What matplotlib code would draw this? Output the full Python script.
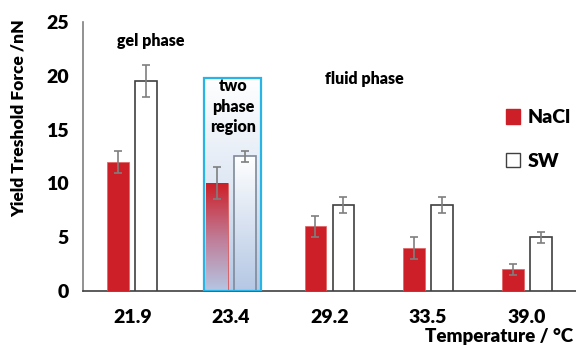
import matplotlib
matplotlib.use("Agg")
import matplotlib.pyplot as plt
import numpy as np
from matplotlib.colors import LinearSegmentedColormap
from matplotlib.patches import Patch

temps = ["21.9", "23.4", "29.2", "33.5", "39.0"]
nacl = [12, 10, 6, 4, 2]
nacl_err = [1, 1.5, 1, 1, 0.5]
sw = [19.5, 12.5, 8, 8, 5]
sw_err = [1.5, 0.5, 0.75, 0.75, 0.5]

plt.rcParams['font.family'] = ['Lato', 'DejaVu Sans']
plt.rcParams['font.weight'] = 'heavy'
FW = 'heavy'

fig = plt.figure(figsize=(5.76, 3.48), dpi=100)
ax = fig.add_axes([0.144, 0.164, 0.856, 0.773])

red = '#cc1f27'
x = np.arange(len(temps))
w = 0.22
off = 0.142

bars_r = ax.bar(x - off, nacl, w, color=red, edgecolor='#e06060', linewidth=0.5, zorder=3)
bars_w = ax.bar(x + off, sw, w, color='white', edgecolor='#404040', linewidth=1.2, zorder=3)
ax.errorbar(x - off, nacl, yerr=nacl_err, fmt='none', ecolor='#7f7f7f', elinewidth=1.2, capsize=3, capthick=1.2, zorder=5)
ax.errorbar(x + off, sw, yerr=sw_err, fmt='none', ecolor='#7f7f7f', elinewidth=1.2, capsize=3, capthick=1.2, zorder=5)

# two phase region box with gradient
bx0, bx1, btop = 0.73, 1.31, 19.8
grad = np.linspace(0, 1, 256).reshape(-1, 1)
cmap_bg = LinearSegmentedColormap.from_list('bg', ['#b4c7e4', '#dfe8f4', '#ffffff'])
ax.imshow(grad, extent=[bx0, bx1, 0, btop], origin='lower', aspect='auto', cmap=cmap_bg, zorder=1)
cmap_r = LinearSegmentedColormap.from_list('rb', ['#b4c7e4', '#c07a95', red])
im_r = ax.imshow(grad, extent=[1 - off - w/2, 1 - off + w/2, 0, nacl[1]], origin='lower', aspect='auto', cmap=cmap_r, zorder=4)
im_r.set_clip_path(bars_r[1])
cmap_w = LinearSegmentedColormap.from_list('wb', ['#b4c7e4', '#d8e2f1', '#ffffff'])
im_w = ax.imshow(grad, extent=[1 + off - w/2, 1 + off + w/2, 0, sw[1]], origin='lower', aspect='auto', cmap=cmap_w, zorder=4)
im_w.set_clip_path(bars_w[1])
bars_w[1].set_zorder(4.5)
bars_w[1].set_facecolor('none')
bars_w[1].set_edgecolor('#7f8a99')
rect = plt.Rectangle((bx0, 0), bx1 - bx0, btop, fill=False, edgecolor='#27b4e6', linewidth=1.6, zorder=6)
ax.add_patch(rect)

ax.set_xlim(-0.5, 4.5)
ax.set_ylim(0, 25)
ax.set_yticks([0, 5, 10, 15, 20, 25])
ax.set_xticks(x)
ax.set_xticklabels(temps)
ax.tick_params(axis='both', length=0, labelsize=14)
ax.tick_params(axis='x', pad=13)
ax.tick_params(axis='y', pad=10)
for lab in ax.get_xticklabels() + ax.get_yticklabels():
    lab.set_fontweight(FW)
for s in ['top', 'right']:
    ax.spines[s].set_visible(False)
ax.spines['left'].set_color('#7f7f7f')
ax.spines['bottom'].set_color('#404040')
ax.spines['left'].set_linewidth(1.2)
ax.spines['bottom'].set_linewidth(1.2)

fig.text(0.032, 1 - 118/348, 'Yield Treshold Force /nN', rotation=90, ha='center', va='center',
         fontsize=12.5, fontweight=FW)
fig.text(0.995, 0.01, 'Temperature / °C', ha='right', va='bottom', fontsize=13.5, fontweight=FW)

ax.text(0.19, 23.2, 'gel phase', ha='center', va='center', fontsize=11.5, fontweight=FW)
ax.text(1.02, 17.1, 'two\nphase\nregion', ha='center', va='center', fontsize=11.5, fontweight=FW, linespacing=1.35, zorder=7)
ax.text(2.35, 19.7, 'fluid phase', ha='center', va='center', fontsize=11.5, fontweight=FW)

leg = ax.legend(handles=[Patch(facecolor=red, edgecolor=red), Patch(facecolor='white', edgecolor='#404040')],
                labels=['NaCl', 'SW'], loc='upper left', bbox_to_anchor=(0.822, 0.74), frameon=False,
                fontsize=14, handlelength=0.75, handleheight=0.75, labelspacing=1.35, handletextpad=0.4)
for t in leg.get_texts():
    t.set_fontweight(FW)

fig.savefig('out.png', dpi=100)
